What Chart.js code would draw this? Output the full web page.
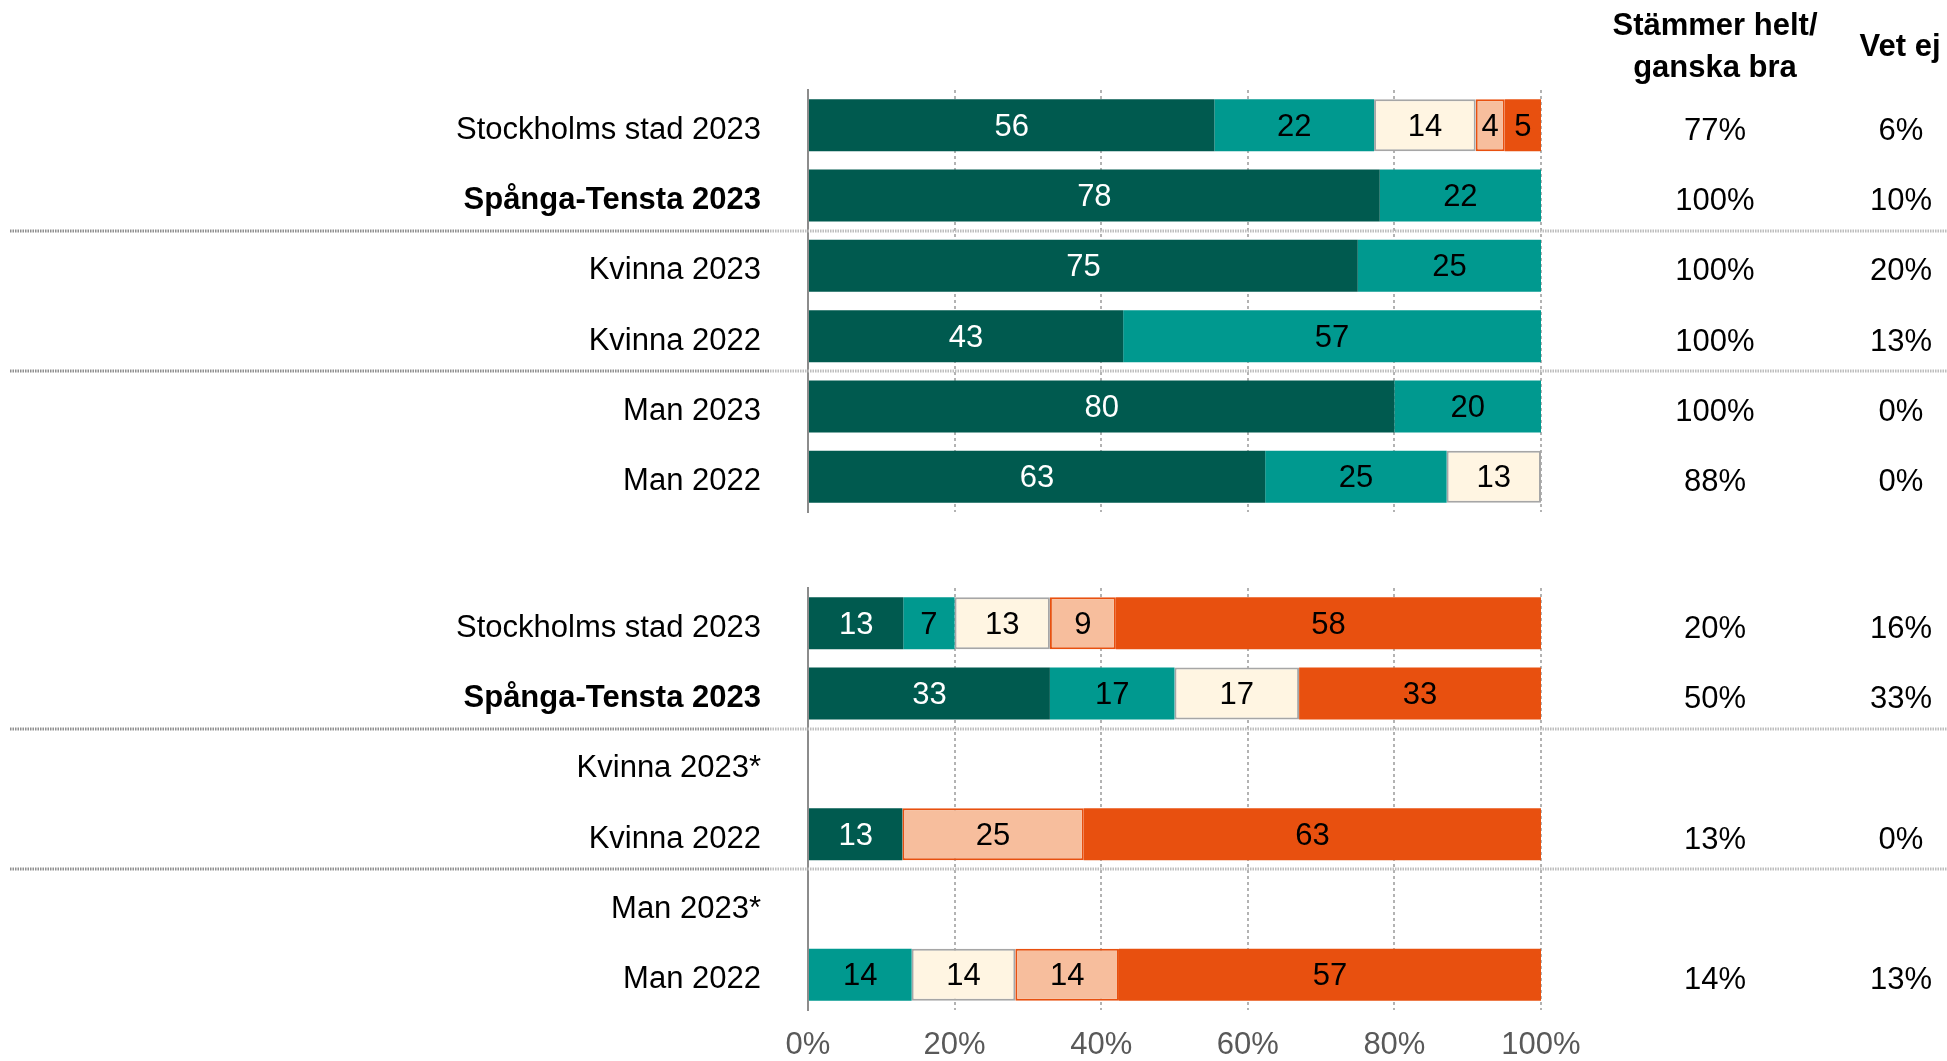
<!DOCTYPE html>
<html>
<head>
<meta charset="utf-8">
<script src="https://cdn.jsdelivr.net/npm/chart.js@4/dist/chart.umd.min.js"></script>
<style>
  html, body { margin: 0; padding: 0; background: #fff; }
  #wrap { position: relative; width: 1947px; height: 1061px; overflow: hidden; }
  .box { position: absolute; left: 0; width: 1947px; }
</style>
</head>
<body>
<div id="wrap">
  <div class="box" style="top:0;height:530px"><canvas id="topChart"></canvas></div>
  <div class="box" style="top:500px;height:561px"><canvas id="botChart"></canvas></div>
</div>
<script>
// ── Data ───────────────────────────────────────────────────────────────────

const topLabels = ['Stockholms stad 2023', 'Spånga-Tensta 2023', 'Kvinna 2023', 'Kvinna 2022', 'Man 2023', 'Man 2022'];
const botLabels = ['Stockholms stad 2023', 'Spånga-Tensta 2023', 'Kvinna 2023*', 'Kvinna 2022', 'Man 2023*', 'Man 2022'];

// segments, left to right
const topHelt    = [56, 78, 75, 43, 80, 63];
const topGanska  = [22, 22, 25, 57, 20, 25];
const topVarken  = [14, null, null, null, null, 13];
const topDaligt  = [4, null, null, null, null, null];
const topInte    = [5, null, null, null, null, null];

const botHelt    = [13, 33, null, 13, null, null];
const botGanska  = [7, 17, null, null, null, 14];
const botVarken  = [13, 17, null, null, null, 14];
const botDaligt  = [9, null, null, 25, null, 14];
const botInte    = [58, 33, null, 63, null, 57];

// right-hand columns
const topAgree    = [77, 100, 100, 100, 100, 88];
const topDontKnow = [6, 10, 20, 13, 0, 0];
const botAgree    = [20, 50, null, 13, null, 14];
const botDontKnow = [16, 33, null, 0, null, 13];

const xTicks = [0, 20, 40, 60, 80, 100];

// ── Styles ─────────────────────────────────────────────────────────────────

const FONT = '"Liberation Sans", Arial, sans-serif';
const FS   = 31;
const SEG = [
  { bg: '#005A4F', border: '#005A4F', bw: 0, text: '#fff' },
  { bg: '#00998F', border: '#00998F', bw: 0, text: '#000' },
  { bg: '#FFF5E2', border: '#A6A6A6', bw: 2, text: '#000' },
  { bg: '#F7BE9D', border: '#E8500F', bw: 2, text: '#000' },
  { bg: '#E8500F', border: '#E8500F', bw: 0, text: '#000' },
];

// 100 % stacked: each row scaled to its own sum, labels show the read value
function buildDatasets(series) {
  const sums = series[0].map((_, j) => series.reduce((s, arr) => s + (arr[j] || 0), 0));
  return series.map((arr, i) => ({
    data: arr.map((v, j) => (v ? v / sums[j] * 100 : null)),
    raw: arr,
    backgroundColor: SEG[i].bg,
    borderColor: SEG[i].border,
    borderWidth: SEG[i].bw,
    borderSkipped: false,
    labelColor: SEG[i].text,
    categoryPercentage: 1,
    barPercentage: 0.74,
  }));
}

// ── Plugins ────────────────────────────────────────────────────────────────

const barLabels = {
  id: 'barLabels',
  afterDatasetsDraw(chart) {
    const { ctx } = chart;
    ctx.save();
    ctx.font = `${FS}px ${FONT}`;
    ctx.textAlign = 'center';
    ctx.textBaseline = 'middle';
    chart.data.datasets.forEach((ds, i) => {
      chart.getDatasetMeta(i).data.forEach((bar, j) => {
        const v = ds.raw[j];
        if (!v) return;
        ctx.fillStyle = ds.labelColor;
        ctx.fillText(String(v), (bar.x + bar.base) / 2, bar.y + 2);
      });
    });
    ctx.restore();
  },
};

const sideColumns = {
  id: 'sideColumns',
  afterDraw(chart, args, opts) {
    const { ctx } = chart;
    const y = chart.scales.y;
    ctx.save();

    // group dividers
    (opts.dividers || []).forEach(d => {
      const py = Math.round((y.getPixelForValue(d) + y.getPixelForValue(d + 1)) / 2);
      ctx.lineWidth = 3;
      ctx.setLineDash([1.5, 1]);
      ctx.strokeStyle = '#8f8f8f';
      ctx.beginPath(); ctx.moveTo(10, py); ctx.lineTo(770, py); ctx.stroke();
      ctx.strokeStyle = '#bdbdbd';
      ctx.beginPath(); ctx.moveTo(770, py); ctx.lineTo(1947, py); ctx.stroke();
    });
    ctx.setLineDash([]);

    ctx.fillStyle = '#000';
    ctx.textAlign = 'center';
    ctx.textBaseline = 'middle';
    if (opts.header) {
      ctx.font = `bold ${FS}px ${FONT}`;
      ctx.fillText('Stämmer helt/', 1715, 26);
      ctx.fillText('ganska bra', 1715, 68);
      ctx.fillText('Vet ej', 1900, 47);
    }
    ctx.font = `${FS}px ${FONT}`;
    opts.agree.forEach((v, j) => {
      const py = y.getPixelForValue(j) + 6;
      if (v !== null) ctx.fillText(v + '%', 1715, py);
      if (opts.dontKnow[j] !== null) ctx.fillText(opts.dontKnow[j] + '%', 1901, py);
    });
    ctx.restore();
  },
};

// ── Charts ─────────────────────────────────────────────────────────────────

function makeChart(id, labels, series, side, bottomAxis, padTop) {
  return new Chart(document.getElementById(id), {
    type: 'bar',
    data: { labels, datasets: buildDatasets(series) },
    plugins: [barLabels, sideColumns],
    options: {
      indexAxis: 'y',
      responsive: true, maintainAspectRatio: false, animation: false,
      layout: { padding: { left: 0, right: 406, top: padTop, bottom: bottomAxis ? 0 : 18 } },
      plugins: {
        legend: { display: false },
        tooltip: { enabled: false },
        sideColumns: side,
      },
      scales: {
        x: {
          stacked: true, min: 0, max: 100,
          afterBuildTicks: s => { s.ticks = xTicks.map(v => ({ value: v })); },
          afterFit: s => { s.height = bottomAxis ? 51 : 0; },
          grid: {
            drawTicks: false, lineWidth: 2,
            color: c => (c.tick && c.tick.value === 0 ? 'rgba(0,0,0,0)' : '#b3b3b3'),
          },
          border: { display: false, dash: [3, 3] },
          ticks: {
            display: bottomAxis, padding: 17, color: '#595959',
            font: { family: FONT, size: FS },
            callback: v => v + '%',
          },
        },
        y: {
          stacked: true,
          // fixed label column; drop the label overhang so the plot keeps its height
          afterFit: s => { s.width = 808; s.paddingTop = 0; s.paddingBottom = 0; },
          grid: { display: false, drawTicks: false },
          border: { display: true, color: '#8c8c8c', width: 2 },
          ticks: {
            autoSkip: false, padding: 47, labelOffset: 5, color: '#000',
            font: c => ({ family: FONT, size: FS, weight: c.index === 1 ? 'bold' : 'normal' }),
          },
        },
      },
    },
  });
}

makeChart('topChart', topLabels,
  [topHelt, topGanska, topVarken, topDaligt, topInte],
  { agree: topAgree, dontKnow: topDontKnow, dividers: [1, 3], header: true },
  false, 90);

makeChart('botChart', botLabels,
  [botHelt, botGanska, botVarken, botDaligt, botInte],
  { agree: botAgree, dontKnow: botDontKnow, dividers: [1, 3], header: false },
  true, 88);
</script>
</body>
</html>
